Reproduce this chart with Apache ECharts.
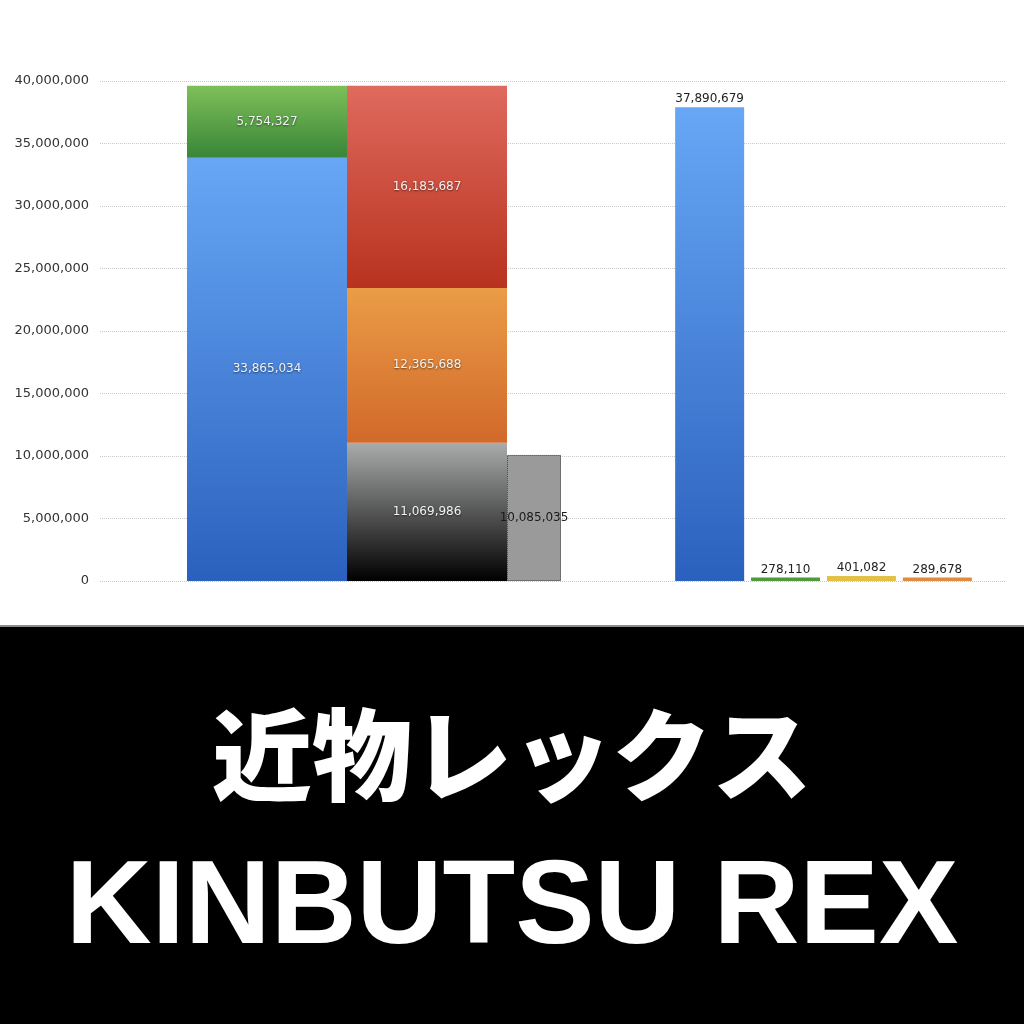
<!DOCTYPE html>
<html>
<head>
<meta charset="utf-8">
<script src="https://cdn.jsdelivr.net/npm/echarts@6/dist/echarts.min.js"></script>
<style>
html,body{margin:0;padding:0;background:#fff;}
#c{width:1024px;height:1024px;}
</style>
</head>
<body>
<div id="c"></div>
<script>
// ---- data ----
var yTicks = [0, 5000000, 10000000, 15000000, 20000000, 25000000, 30000000, 35000000, 40000000];
var leftCategory = ['left'];
var rightCategory = ['right'];
var stackA_blue = [33865034];
var stackA_green = [5754327];
var stackB_black = [11069986];
var stackB_orange = [12365688];
var stackB_red = [16183687];
var grayBar = [10085035];
var rightBlue = [37890679];
var rightGreen = [278110];
var rightYellow = [401082];
var rightOrange = [289678];
var titleJa = '近物レックス';
var titleEn = 'KINBUTSU REX';

function fmt(v) { return Number(v).toLocaleString('en-US'); }
function grad(top, bottom) {
  return new echarts.graphic.LinearGradient(0, 0, 0, 1, [
    { offset: 0, color: top }, { offset: 1, color: bottom }
  ]);
}
var yMin = yTicks[0], yMax = yTicks[yTicks.length - 1], yInt = yTicks[1] - yTicks[0];
var numFont = '"DejaVu Sans", "Noto Sans", sans-serif';

var insideLabel = {
  show: true, position: 'inside', color: '#f2f2f2', fontSize: 12,
  fontFamily: numFont,
  textShadowColor: 'rgba(0,0,0,0.55)', textShadowBlur: 2, textShadowOffsetY: 1,
  formatter: function (p) { return fmt(p.value); }
};
var topLabel = {
  show: true, position: 'top', distance: 2, color: '#222', fontSize: 12,
  fontFamily: numFont,
  formatter: function (p) { return fmt(p.value); }
};

var gridTop = 81, gridBottom = 443;
var chart = echarts.init(document.getElementById('c'));
chart.setOption({
  backgroundColor: '#ffffff',
  animation: false,
  grid: [
    { left: 100, right: 19, top: gridTop, bottom: gridBottom },
    { left: 187, width: 374, top: gridTop, bottom: gridBottom },
    { left: 675, width: 297, top: gridTop, bottom: gridBottom }
  ],
  xAxis: [
    { type: 'category', gridIndex: 0, data: [''], show: false },
    { type: 'category', gridIndex: 1, data: leftCategory, show: false },
    { type: 'category', gridIndex: 2, data: rightCategory, show: false }
  ],
  yAxis: [
    {
      type: 'value', gridIndex: 0, min: yMin, max: yMax, interval: yInt,
      axisLine: { show: false }, axisTick: { show: false },
      axisLabel: { color: '#333', fontSize: 13, margin: 11, fontFamily: numFont,
        formatter: function (v) { return fmt(v); } },
      splitLine: { show: true, lineStyle: { color: '#c8c8c8', type: 'dotted', width: 1 } }
    },
    { type: 'value', gridIndex: 1, min: yMin, max: yMax, interval: yInt, show: false, splitLine: { show: false } },
    { type: 'value', gridIndex: 2, min: yMin, max: yMax, interval: yInt, show: false, splitLine: { show: false } }
  ],
  series: [
    { type: 'bar', xAxisIndex: 1, yAxisIndex: 1, stack: 'a', barWidth: 160, barGap: '0%',
      data: stackA_blue, itemStyle: { color: grad('#67a7f5', '#2b61be') }, label: insideLabel },
    { type: 'bar', xAxisIndex: 1, yAxisIndex: 1, stack: 'a', barWidth: 160, barGap: '0%',
      data: stackA_green, itemStyle: { color: grad('#7ebf59', '#398638') }, label: insideLabel },
    { type: 'bar', xAxisIndex: 1, yAxisIndex: 1, stack: 'b', barWidth: 160, barGap: '0%',
      data: stackB_black, itemStyle: { color: grad('#aaacab', '#000000') }, label: insideLabel },
    { type: 'bar', xAxisIndex: 1, yAxisIndex: 1, stack: 'b', barWidth: 160, barGap: '0%',
      data: stackB_orange, itemStyle: { color: grad('#eb9c46', '#d1692b') }, label: insideLabel },
    { type: 'bar', xAxisIndex: 1, yAxisIndex: 1, stack: 'b', barWidth: 160, barGap: '0%',
      data: stackB_red, itemStyle: { color: grad('#df6a5e', '#b8321e') }, label: insideLabel },
    { type: 'bar', xAxisIndex: 1, yAxisIndex: 1, barWidth: 54, barGap: '0%',
      data: grayBar,
      itemStyle: { color: '#9a9a9a', borderColor: '#111', borderWidth: 1, borderType: 'dotted' },
      label: { show: true, position: 'inside', color: '#1a1a1a', fontSize: 12, fontFamily: numFont,
        formatter: function (p) { return fmt(p.value); } } },

    { type: 'bar', xAxisIndex: 2, yAxisIndex: 2, barWidth: 69, barGap: '10%',
      data: rightBlue, itemStyle: { color: grad('#67a7f5', '#2b61be') }, label: topLabel },
    { type: 'bar', xAxisIndex: 2, yAxisIndex: 2, barWidth: 69, barGap: '10%',
      data: rightGreen, itemStyle: { color: '#4f9a3c' }, label: topLabel },
    { type: 'bar', xAxisIndex: 2, yAxisIndex: 2, barWidth: 69, barGap: '10%',
      data: rightYellow, itemStyle: { color: '#e3c046' }, label: topLabel },
    { type: 'bar', xAxisIndex: 2, yAxisIndex: 2, barWidth: 69, barGap: '10%',
      data: rightOrange, itemStyle: { color: '#e08a3c' }, label: topLabel }
  ],
  graphic: [
    { type: 'rect', left: 0, top: 625, shape: { width: 1024, height: 2 }, style: { fill: '#8a8a8a' }, silent: true },
    { type: 'rect', left: 0, top: 627, shape: { width: 1024, height: 397 }, style: { fill: '#000' }, silent: true },
    { type: 'text', left: 'center', top: 705,
      style: { text: titleJa, fill: '#fff', font: '900 100px "Noto Sans CJK JP", sans-serif' } },
    { type: 'text', left: 'center', top: 851,
      style: { text: titleEn, fill: '#fff', font: 'bold 119px "Liberation Sans", Arial, sans-serif' } }
  ]
});
</script>
</body>
</html>
